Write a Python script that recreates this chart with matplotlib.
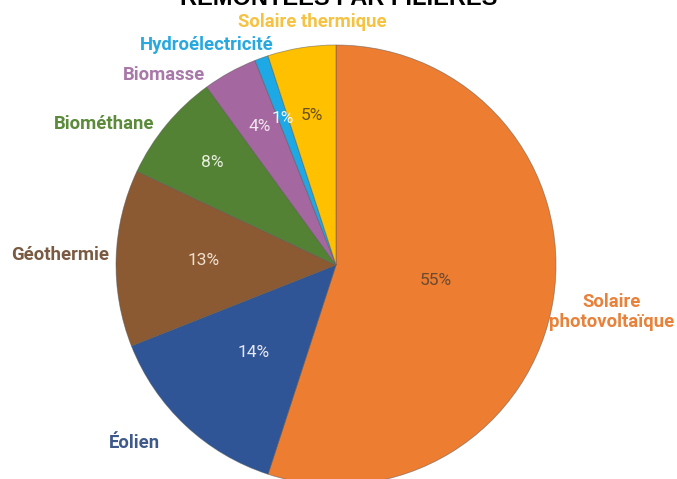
import matplotlib
matplotlib.use("Agg")
import matplotlib.pyplot as plt
import numpy as np

filieres = ["Solaire\nphotovoltaïque", "Éolien", "Géothermie", "Biométhane",
            "Biomasse", "Hydroélectricité", "Solaire thermique"]
parts = [55, 14, 13, 8, 4, 1, 5]
couleurs = ["#ED7D31", "#2F5597", "#8C5A32", "#548235", "#A5679F", "#1CA9E6", "#FFC000"]
couleurs_texte = ["#E8823A", "#3F5A8A", "#7A5A42", "#5A8A3A", "#A878A8", "#29A8E0", "#F5C242"]
couleurs_pct = ["#6a4a30", "#e8e8f0", "#f0e0d0", "#e8f0e0", "#f0e8f0", "#f0f8ff", "#6a5020"]

plt.rcParams['font.family'] = ['Roboto', 'DejaVu Sans']

fig = plt.figure(figsize=(6.77, 4.79), dpi=100)
ax = fig.add_axes([0, 0, 1, 1])

wedges, textes, pcts = ax.pie(parts, colors=couleurs, startangle=90, counterclock=False,
                             labels=filieres, autopct='%d%%', radius=1,
                             wedgeprops=dict(linewidth=0.6, edgecolor="#55555588"),
                             textprops=dict(fontsize=12))

# position des etiquettes (placees a la main comme dans l'original)
pos_labels = [(1.2545, -0.2136), (-0.918, -0.809), (-1.2545, 0.045), (-1.055, 0.641),
              (-0.782, 0.864), (-0.586, 1.0), (-0.109, 1.105)]
dist_pct = [0.46, 0.545, 0.6, 0.73, 0.72, 0.71, 0.69]

for i, w in enumerate(wedges):
    t = textes[i]
    t.set_position(pos_labels[i])
    t.set_ha('center')
    t.set_va('center')
    t.set_color(couleurs_texte[i])
    t.set_fontweight('bold')
    t.set_fontsize(13.3)
    t.set_linespacing(1.15)
    ang = np.deg2rad((w.theta1 + w.theta2) / 2)
    p = pcts[i]
    p.set_position((dist_pct[i] * np.cos(ang), dist_pct[i] * np.sin(ang)))
    p.set_color(couleurs_pct[i])
    p.set_fontsize(12.5)

ax.text(0.01, 1.182, "REMONTÉES PAR FILIÈRES", ha='center', va='baseline',
        fontsize=17, fontweight='bold', family=['Liberation Sans', 'DejaVu Sans'])

ax.set_xlim(-336 / 220, (677 - 336) / 220)
ax.set_ylim(-(479 - 265) / 220, 265 / 220)
ax.set_aspect('equal')
ax.axis('off')

fig.savefig("out.png", dpi=100)
